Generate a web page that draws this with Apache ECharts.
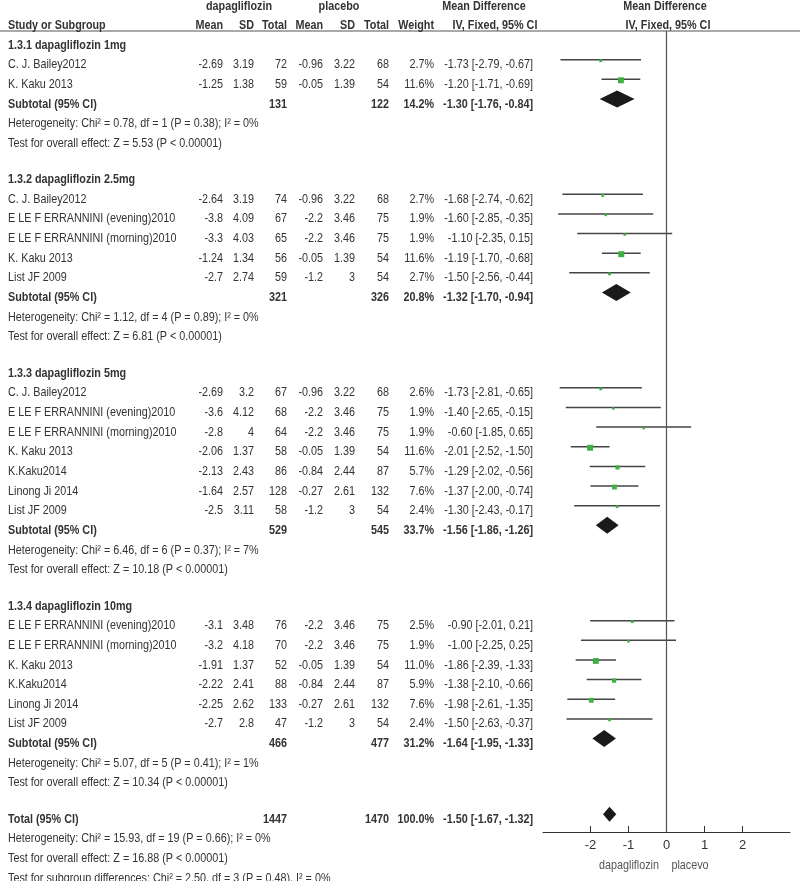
<!DOCTYPE html>
<html>
<head>
<meta charset="utf-8">
<script src="https://cdn.jsdelivr.net/npm/echarts@6/dist/echarts.min.js"></script>
<style>
  html, body { margin: 0; padding: 0; background: #fff; }
  #main { width: 800px; height: 881px; }
</style>
</head>
<body>
<div id="main"></div>
<script>
// 亚组标题
var groupTitles = ['1.3.1 dapagliflozin 1mg', '1.3.2 dapagliflozin 2.5mg', '1.3.3 dapagliflozin 5mg', '1.3.4 dapagliflozin 10mg'];

// 各研究（按亚组）
var studyGroup = [0, 0, 1, 1, 1, 1, 1, 2, 2, 2, 2, 2, 2, 2, 3, 3, 3, 3, 3, 3];
var studyNames = [
  'C. J. Bailey2012', 'K. Kaku 2013',
  'C. J. Bailey2012', 'E LE F ERRANNINI (evening)2010', 'E LE F ERRANNINI (morning)2010', 'K. Kaku 2013', 'List JF 2009',
  'C. J. Bailey2012', 'E LE F ERRANNINI (evening)2010', 'E LE F ERRANNINI (morning)2010', 'K. Kaku 2013', 'K.Kaku2014', 'Linong Ji 2014', 'List JF 2009',
  'E LE F ERRANNINI (evening)2010', 'E LE F ERRANNINI (morning)2010', 'K. Kaku 2013', 'K.Kaku2014', 'Linong Ji 2014', 'List JF 2009'
];
var expMean  = ['-2.69', '-1.25', '-2.64', '-3.8', '-3.3', '-1.24', '-2.7', '-2.69', '-3.6', '-2.8', '-2.06', '-2.13', '-1.64', '-2.5', '-3.1', '-3.2', '-1.91', '-2.22', '-2.25', '-2.7'];
var expSD    = ['3.19', '1.38', '3.19', '4.09', '4.03', '1.34', '2.74', '3.2', '4.12', '4', '1.37', '2.43', '2.57', '3.11', '3.48', '4.18', '1.37', '2.41', '2.62', '2.8'];
var expTotal = [72, 59, 74, 67, 65, 56, 59, 67, 68, 64, 58, 86, 128, 58, 76, 70, 52, 88, 133, 47];
var ctlMean  = ['-0.96', '-0.05', '-0.96', '-2.2', '-2.2', '-0.05', '-1.2', '-0.96', '-2.2', '-2.2', '-0.05', '-0.84', '-0.27', '-1.2', '-2.2', '-2.2', '-0.05', '-0.84', '-0.27', '-1.2'];
var ctlSD    = ['3.22', '1.39', '3.22', '3.46', '3.46', '1.39', '3', '3.22', '3.46', '3.46', '1.39', '2.44', '2.61', '3', '3.46', '3.46', '1.39', '2.44', '2.61', '3'];
var ctlTotal = [68, 54, 68, 75, 75, 54, 54, 68, 75, 75, 54, 87, 132, 54, 75, 75, 54, 87, 132, 54];
var weights  = [2.7, 11.6, 2.7, 1.9, 1.9, 11.6, 2.7, 2.6, 1.9, 1.9, 11.6, 5.7, 7.6, 2.4, 2.5, 1.9, 11.0, 5.9, 7.6, 2.4];
var md       = [-1.73, -1.20, -1.68, -1.60, -1.10, -1.19, -1.50, -1.73, -1.40, -0.60, -2.01, -1.29, -1.37, -1.30, -0.90, -1.00, -1.86, -1.38, -1.98, -1.50];
var ciLow    = [-2.79, -1.71, -2.74, -2.85, -2.35, -1.70, -2.56, -2.81, -2.65, -1.85, -2.52, -2.02, -2.00, -2.43, -2.01, -2.25, -2.39, -2.10, -2.61, -2.63];
var ciHigh   = [-0.67, -0.69, -0.62, -0.35, 0.15, -0.68, -0.44, -0.65, -0.15, 0.65, -1.50, -0.56, -0.74, -0.17, 0.21, 0.25, -1.33, -0.66, -1.35, -0.37];

// 亚组合计
var subExpTotal = [131, 321, 529, 466];
var subCtlTotal = [122, 326, 545, 477];
var subWeight   = ['14.2%', '20.8%', '33.7%', '31.2%'];
var subMd       = [-1.30, -1.32, -1.56, -1.64];
var subLow      = [-1.76, -1.70, -1.86, -1.95];
var subHigh     = [-0.84, -0.94, -1.26, -1.33];
var subHet = [
  'Heterogeneity: Chi² = 0.78, df = 1 (P = 0.38); I² = 0%',
  'Heterogeneity: Chi² = 1.12, df = 4 (P = 0.89); I² = 0%',
  'Heterogeneity: Chi² = 6.46, df = 6 (P = 0.37); I² = 7%',
  'Heterogeneity: Chi² = 5.07, df = 5 (P = 0.41); I² = 1%'
];
var subTest = [
  'Test for overall effect: Z = 5.53 (P < 0.00001)',
  'Test for overall effect: Z = 6.81 (P < 0.00001)',
  'Test for overall effect: Z = 10.18 (P < 0.00001)',
  'Test for overall effect: Z = 10.34 (P < 0.00001)'
];

// 总计
var totalExp = 1447, totalCtl = 1470, totalWeight = '100.0%';
var totalMd = -1.50, totalLow = -1.67, totalHigh = -1.32;
var totalNotes = [
  'Heterogeneity: Chi² = 15.93, df = 19 (P = 0.66); I² = 0%',
  'Test for overall effect: Z = 16.88 (P < 0.00001)',
  'Test for subgroup differences: Chi² = 2.50, df = 3 (P = 0.48), I² = 0%'
];

// 坐标轴刻度
var xTicks = [-2, -1, 0, 1, 2];

// ---- 布局 ----
var PX = 19.65, Y0 = 45, GAP = 1.85, SHIFT = 5;
var FONT = '"Liberation Sans", Arial, sans-serif';
var NARROW = 0.83;   // 模拟窄体字
var COL = { name: 8, eMean: 223, eSD: 254, eTot: 287, cMean: 323, cSD: 355, cTot: 389, wt: 434, ci: 533 };

function ciText(m, l, h) {
  return m.toFixed(2) + ' [' + l.toFixed(2) + ', ' + h.toFixed(2) + ']';
}

var cells = [];
var studyItems = [];
var diamondItems = [];
function cell(x, r, text, align, bold) {
  cells.push({ x: x, r: r, text: String(text), align: align || 'left', bold: !!bold });
}

// 表头
cell(239, -1.95, 'dapagliflozin', 'center', true);
cell(339, -1.95, 'placebo', 'center', true);
cell(484, -1.95, 'Mean Difference', 'center', true);
cell(665, -1.95, 'Mean Difference', 'center', true);
cell(COL.name, -1.0, 'Study or Subgroup', 'left', true);
cell(COL.eMean, -1.0, 'Mean', 'right', true);
cell(COL.eSD, -1.0, 'SD', 'right', true);
cell(COL.eTot, -1.0, 'Total', 'right', true);
cell(COL.cMean, -1.0, 'Mean', 'right', true);
cell(COL.cSD, -1.0, 'SD', 'right', true);
cell(COL.cTot, -1.0, 'Total', 'right', true);
cell(COL.wt, -1.0, 'Weight', 'right', true);
cell(495, -1.0, 'IV, Fixed, 95% CI', 'center', true);
cell(668, -1.0, 'IV, Fixed, 95% CI', 'center', true);

var r = 0;
for (var g = 0; g < groupTitles.length; g++) {
  cell(COL.name, r, groupTitles[g], 'left', true);
  r += 1;
  for (var i = 0; i < studyNames.length; i++) {
    if (studyGroup[i] !== g) continue;
    cell(COL.name, r, studyNames[i]);
    cell(COL.eMean, r, expMean[i], 'right');
    cell(COL.eSD, r, expSD[i], 'right');
    cell(COL.eTot, r, expTotal[i], 'right');
    cell(COL.cMean, r, ctlMean[i], 'right');
    cell(COL.cSD, r, ctlSD[i], 'right');
    cell(COL.cTot, r, ctlTotal[i], 'right');
    cell(COL.wt, r, weights[i].toFixed(1) + '%', 'right');
    cell(COL.ci, r, ciText(md[i], ciLow[i], ciHigh[i]), 'right');
    studyItems.push([md[i], ciLow[i], ciHigh[i], r, weights[i]]);
    r += 1;
  }
  cell(COL.name, r, 'Subtotal (95% CI)', 'left', true);
  cell(COL.eTot, r, subExpTotal[g], 'right', true);
  cell(COL.cTot, r, subCtlTotal[g], 'right', true);
  cell(COL.wt, r, subWeight[g], 'right', true);
  cell(COL.ci, r, ciText(subMd[g], subLow[g], subHigh[g]), 'right', true);
  diamondItems.push([subMd[g], subLow[g], subHigh[g], r, 8.5]);
  r += 1;
  cell(COL.name, r, subHet[g]);
  r += 1;
  cell(COL.name, r, subTest[g]);
  r += GAP;
}
cell(COL.name, r, 'Total (95% CI)', 'left', true);
cell(COL.eTot, r, totalExp, 'right', true);
cell(COL.cTot, r, totalCtl, 'right', true);
cell(COL.wt, r, totalWeight, 'right', true);
cell(COL.ci, r, ciText(totalMd, totalLow, totalHigh), 'right', true);
diamondItems.push([totalMd, totalLow, totalHigh, r, 7.5]);
for (var k = 0; k < totalNotes.length; k++) {
  r += 1;
  cell(COL.name, r, totalNotes[k]);
}

var myChart = echarts.init(document.getElementById('main'));

var option = {
  animation: false,
  backgroundColor: '#fff',
  grid: [
    { left: 0, top: 0, width: 800, height: 881 },
    { left: 543, top: 31, width: 247, height: 801 }
  ],
  xAxis: [
    { gridIndex: 0, type: 'value', min: 0, max: 800, show: false },
    {
      gridIndex: 1, type: 'value', min: -3.25, max: 3.25,
      axisLine: { onZero: false, lineStyle: { color: '#333', width: 1 } },
      axisTick: { inside: true, length: 6, customValues: xTicks, lineStyle: { color: '#333' } },
      axisLabel: { customValues: xTicks, color: '#333', fontSize: 13, fontFamily: FONT, margin: 7 },
      splitLine: { show: false }
    }
  ],
  yAxis: [
    { gridIndex: 0, type: 'value', inverse: true, min: -Y0 / PX, max: (881 - Y0) / PX, show: false },
    { gridIndex: 1, type: 'value', inverse: true, min: (31 - Y0 + SHIFT) / PX, max: (832 - Y0 + SHIFT) / PX, show: false }
  ],
  graphic: [
    { type: 'line', shape: { x1: 0, y1: 31, x2: 800, y2: 31 }, style: { stroke: '#555', lineWidth: 1.2 } },
    { type: 'text', x: 629, y: 865, scaleX: NARROW, style: { text: 'dapagliflozin', fill: '#555', fontSize: 13, fontFamily: FONT, textAlign: 'center', textVerticalAlign: 'middle' } },
    { type: 'text', x: 690, y: 865, scaleX: NARROW, style: { text: 'placevo', fill: '#555', fontSize: 13, fontFamily: FONT, textAlign: 'center', textVerticalAlign: 'middle' } }
  ],
  series: [
    {
      // 表格文字
      type: 'custom', xAxisIndex: 0, yAxisIndex: 0, clip: false, silent: true,
      data: cells.map(function (c, i) { return [c.x, c.r, i]; }),
      renderItem: function (params, api) {
        var c = cells[api.value(2)];
        var p = api.coord([c.x, c.r]);
        return {
          type: 'text', x: p[0], y: p[1], scaleX: NARROW,
          style: {
            text: c.text, fill: '#333', fontSize: 13, fontFamily: FONT,
            fontWeight: c.bold ? 'bold' : 'normal',
            textAlign: c.align, textVerticalAlign: 'middle'
          }
        };
      }
    },
    {
      // 单个研究：置信区间 + 权重方块
      type: 'custom', xAxisIndex: 1, yAxisIndex: 1, clip: false,
      data: studyItems,
      renderItem: function (params, api) {
        var y = api.value(3);
        var lo = api.coord([api.value(1), y]);
        var hi = api.coord([api.value(2), y]);
        var c = api.coord([api.value(0), y]);
        var s = Math.max(2.5, 1.75 * Math.sqrt(api.value(4)));
        return {
          type: 'group',
          children: [
            { type: 'line', shape: { x1: lo[0], y1: lo[1], x2: hi[0], y2: hi[1] }, style: { stroke: '#444', lineWidth: 1.5 } },
            { type: 'rect', shape: { x: c[0] - s / 2, y: c[1] - s / 2 + 1, width: s, height: s }, style: { fill: '#3cb043' } }
          ]
        };
      },
      markLine: {
        silent: true, symbol: 'none', label: { show: false },
        lineStyle: { color: '#555', width: 1.2, type: 'solid' },
        data: [{ xAxis: 0 }]
      }
    },
    {
      // 合并效应菱形
      type: 'custom', xAxisIndex: 1, yAxisIndex: 1, clip: false,
      data: diamondItems,
      renderItem: function (params, api) {
        var y = api.value(3);
        var h = api.value(4);
        var lo = api.coord([api.value(1), y]);
        var hi = api.coord([api.value(2), y]);
        var c = api.coord([api.value(0), y]);
        return {
          type: 'polygon',
          shape: { points: [[lo[0], lo[1]], [c[0], c[1] - h], [hi[0], hi[1]], [c[0], c[1] + h]] },
          style: { fill: '#1a1a1a' }
        };
      }
    }
  ]
};

myChart.setOption(option);
</script>
</body>
</html>
